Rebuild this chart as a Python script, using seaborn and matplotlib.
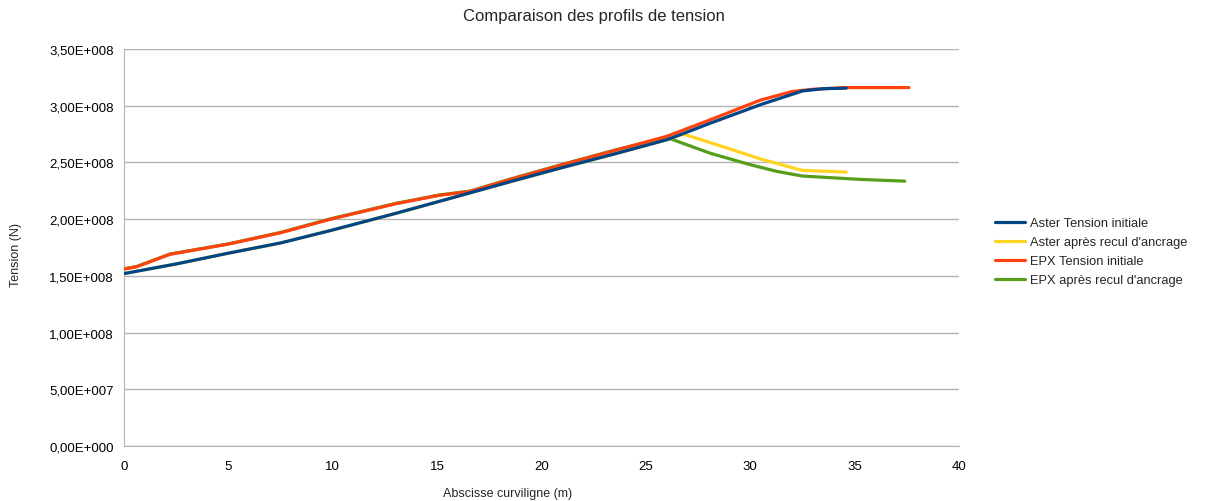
import pandas as pd
import matplotlib
matplotlib.use("Agg")
import matplotlib.pyplot as plt
import seaborn as sns
from matplotlib.ticker import FuncFormatter, MultipleLocator
from matplotlib.lines import Line2D

# --- Données ---
x_aster = [0, 2.5, 5, 7.5, 9.9, 13, 16.25, 18.5, 21, 23.5, 26, 26.8, 28, 30.5, 32.5, 33.5, 34.6]
t_aster_init = [1.52e8, 1.605e8, 1.70e8, 1.79e8, 1.90e8, 2.05e8, 2.215e8, 2.33e8, 2.455e8, 2.575e8,
                2.70e8, 2.755e8, 2.84e8, 3.01e8, 3.13e8, 3.15e8, 3.155e8]
x_aster_recul = [0, 2.5, 5, 7.5, 9.9, 13, 16.25, 18.5, 21, 23.5, 26, 26.8, 28.5, 30.5, 32.5, 34.6]
t_aster_recul = [1.52e8, 1.605e8, 1.70e8, 1.79e8, 1.90e8, 2.05e8, 2.215e8, 2.33e8, 2.455e8, 2.575e8,
                 2.70e8, 2.75e8, 2.65e8, 2.53e8, 2.43e8, 2.415e8]
x_epx = [0, 0.6, 2.2, 5, 7.5, 9.9, 13, 15.1, 16.6, 18.5, 21, 23.5, 26, 28, 30.5, 32, 33, 34.6, 37.6]
t_epx_init = [1.56e8, 1.58e8, 1.69e8, 1.78e8, 1.88e8, 2.00e8, 2.135e8, 2.21e8, 2.245e8, 2.35e8,
              2.48e8, 2.605e8, 2.73e8, 2.87e8, 3.05e8, 3.125e8, 3.145e8, 3.16e8, 3.16e8]
x_epx_recul = [0, 0.6, 2.2, 5, 7.5, 9.9, 13, 15.1, 16.6, 18.5, 21, 23.5, 26, 28.1, 30, 31.3,
               32.5, 35.3, 37.4]
t_epx_recul = [1.562e8, 1.582e8, 1.692e8, 1.782e8, 1.883e8, 2.003e8, 2.138e8, 2.213e8, 2.248e8,
               2.353e8, 2.483e8, 2.608e8, 2.72e8, 2.58e8, 2.48e8, 2.42e8, 2.38e8, 2.35e8, 2.335e8]

series = ["Aster Tension initiale", "Aster après recul d'ancrage",
          "EPX Tension initiale", "EPX après recul d'ancrage"]
couleurs = ["#004586", "#ffd320", "#ff420e", "#579d1c"]

frames = []
for nom, xs, ts in zip(series,
                       [x_aster, x_aster_recul, x_epx, x_epx_recul],
                       [t_aster_init, t_aster_recul, t_epx_init, t_epx_recul]):
    frames.append(pd.DataFrame({"x": xs, "t": ts, "serie": nom}))
df = pd.concat(frames, ignore_index=True)

# --- Figure ---
sns.set_style("white")
plt.rcParams['font.family'] = ['Liberation Sans', 'DejaVu Sans']

fig = plt.figure(figsize=(12.05, 5.02), dpi=100)
ax = fig.add_axes([124 / 1205, 1 - 447 / 502, (959 - 124) / 1205, (447 - 50) / 502])

# ordre de tracé : les courbes "après recul" dessous
ordre = [3, 1, 2, 0]
for i in ordre:
    sub = df[df["serie"] == series[i]]
    sns.lineplot(data=sub, x="x", y="t", color=couleurs[i], lw=2.3, sort=False,
                 ax=ax, legend=False, zorder=3 + ordre.index(i))

ax.set_xlim(0, 40)
ax.set_ylim(0, 3.5e8)
ax.xaxis.set_major_locator(MultipleLocator(5))
ax.yaxis.set_major_locator(MultipleLocator(0.5e8))

def fmt_sci(v, pos):
    s = f"{v:.2E}"
    mant, exp = s.split("E")
    e = int(exp)
    return f"{mant.replace('.', ',')}E{'+' if e >= 0 else '-'}{abs(e):03d}"

ax.yaxis.set_major_formatter(FuncFormatter(fmt_sci))
ax.yaxis.grid(True, color="#b3b3b3", lw=1)
ax.xaxis.grid(False)
for s in ["top", "right"]:
    ax.spines[s].set_visible(False)
for s in ["left", "bottom"]:
    ax.spines[s].set_color("#b3b3b3")
ax.tick_params(axis="both", which="major", direction="out", length=6, width=1,
               color="#b3b3b3", labelsize=9.5, labelcolor="black")
ax.tick_params(axis="y", pad=1.5)
ax.tick_params(axis="x", pad=4)
ax.set_xlabel("")
ax.set_ylabel("")

fig.text(594 / 1205, 1 - 16 / 502, "Comparaison des profils de tension", ha="center", va="center", fontsize=12)
fig.text(508 / 1205, 1 - 494 / 502, "Abscisse curviligne (m)", ha="center", va="center", fontsize=9)
fig.text(16 / 1205, 1 - 255 / 502, "Tension (N)", ha="center", va="center", rotation=90, fontsize=9)

# légende
handles = [Line2D([0], [0], color=c, lw=2.3) for c in couleurs]
fig.legend(handles, series, loc="upper left", bbox_to_anchor=(995 / 1205, 1 - 218 / 502),
           frameon=False, fontsize=9.3, handlelength=2.3, handletextpad=0.4, labelspacing=0.55,
           borderpad=0, borderaxespad=0)

fig.savefig("out.png", dpi=100)
